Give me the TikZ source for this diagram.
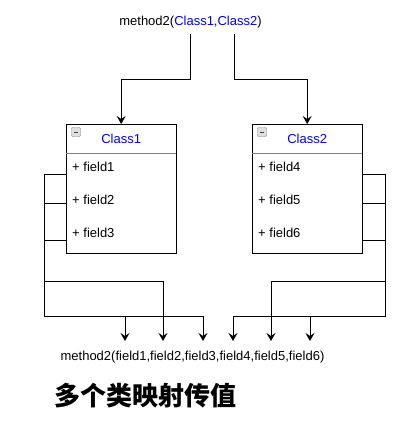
\documentclass[tikz,border=0pt]{standalone}
\usepackage{fontspec}
\setmainfont{Liberation Sans}
\newfontfamily\cjk{Noto Sans CJK SC}
\usetikzlibrary{arrows.meta}
\definecolor{classblue}{RGB}{0,0,255}
\tikzset{
  conn/.style={line width=1pt, -{Stealth[length=8pt,width=9pt,inset=3pt]}},
  classhead/.style={minimum width=110, minimum height=29, anchor=north west, text=classblue},
  classbody/.style={draw, line width=1pt, minimum width=110, minimum height=129, anchor=north west},
  field/.style={anchor=west, inner sep=0},
  icon/.style={draw=gray, fill=gray!25, rounded corners=1pt, minimum size=9, inner sep=0}
}
\begin{document}
\begin{tikzpicture}[x=1pt, y=-1pt, font=\fontsize{13}{15}\selectfont]
            \useasboundingbox (0,0) rectangle (419,424);
            \node[inner sep=0] (top) at (190.5,22) {method2(\textcolor{classblue}{Class1,Class2})};
            \coordinate (s1) at (190,34);
            \coordinate (s2) at (234,34);

            % the two classes
            \node[classbody] (b1) at (66,124) {};
            \node[classhead] (c1) at (66,124) {Class1};
            \draw[gray, line width=1pt] (c1.south west) -- (c1.south east);
            \node[icon] (i1) at (76,132) {};
            \draw[darkgray] (74,132) -- (78,132);
            \node[field] (f1) at (72,167) {+ field1};
            \node[field] (f2) at (72,200) {+ field2};
            \node[field] (f3) at (72,233) {+ field3};

            \node[classbody] (b2) at (252,124) {};
            \node[classhead] (c2) at (252,124) {Class2};
            \draw[gray, line width=1pt] (c2.south west) -- (c2.south east);
            \node[icon] (i2) at (262,132) {};
            \draw[darkgray] (260,132) -- (264,132);
            \node[field] (f4) at (258,167) {+ field4};
            \node[field] (f5) at (258,200) {+ field5};
            \node[field] (f6) at (258,233) {+ field6};

            \draw[conn] (s1) -- (190,79) -| (c1.north);
            \draw[conn] (s2) -- (234,79) -| (c2.north);

            % fields to parameters
            \coordinate (p1) at (66,174);
            \coordinate (p2) at (66,203);
            \coordinate (p3) at (66,240);
            \coordinate (p4) at (362,174);
            \coordinate (p5) at (362,203);
            \coordinate (p6) at (362,240);
            \coordinate (t1) at (125,341);
            \coordinate (t2) at (163,341);
            \coordinate (t3) at (203,341);
            \coordinate (t4) at (233,341);
            \coordinate (t5) at (271,341);
            \coordinate (t6) at (310,341);
            \draw[conn] (p1) -- (44,174) -- (44,316) -| (t1);
            \draw[conn] (p2) -- (44,203) -- (44,281) -| (t2);
            \draw[conn] (p3) -- (44,240) -- (44,316) -| (t3);
            \draw[conn] (p4) -- (385,174) -- (385,316) -| (t4);
            \draw[conn] (p5) -- (385,203) -- (385,281) -| (t5);
            \draw[conn] (p6) -- (385,240) -- (385,316) -| (t6);

            \node[inner sep=0] (call) at (192.5,357) {method2(field1,field2,field3,field4,field5,field6)};
            \node[inner sep=0, anchor=west, font=\cjk\bfseries\fontsize{26}{30}\selectfont] (title) at (54,396) {多个类映射传值};
        \end{tikzpicture}
\end{document}
